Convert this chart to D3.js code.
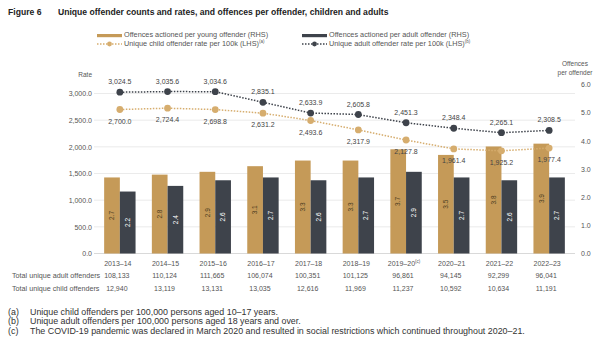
<!DOCTYPE html>
<html>
<head>
<meta charset="utf-8">
<script src="https://cdn.jsdelivr.net/npm/d3@7"></script>
<style>
  body { margin: 0; background: #fff; }
  svg { font-family: "Liberation Sans", Arial, sans-serif; }
</style>
</head>
<body>
<svg id="chart" width="604" height="352"></svg>
<script>
var years = ['2013–14', '2014–15', '2015–16', '2016–17', '2017–18', '2018–19', '2019–20', '2020–21', '2021–22', '2022–23'];
var yearNotes = ['', '', '', '', '', '', '(c)', '', '', ''];
var youngOffences = [2.7, 2.8, 2.9, 3.1, 3.3, 3.3, 3.7, 3.5, 3.8, 3.9];
var adultOffences = [2.2, 2.4, 2.6, 2.7, 2.6, 2.7, 2.9, 2.7, 2.6, 2.7];
var childRate = [2700.0, 2724.4, 2698.8, 2631.2, 2493.6, 2317.9, 2127.8, 1961.4, 1925.2, 1977.4];
var adultRate = [3024.5, 3035.6, 3034.6, 2835.1, 2633.9, 2605.8, 2451.3, 2348.4, 2265.1, 2308.5];
var adultTotals = ['108,133', '110,124', '111,665', '106,074', '100,351', '101,125', '96,861', '94,145', '92,299', '96,041'];
var childTotals = ['12,940', '13,119', '13,131', '13,035', '12,616', '11,969', '11,237', '10,592', '10,634', '11,191'];
var leftTicks = [0, 500, 1000, 1500, 2000, 2500, 3000];
var rightTicks = [0, 1, 2, 3, 4, 5, 6];
var footnotes = [
    ['(a)', 'Unique child offenders per 100,000 persons aged 10–17 years.'],
    ['(b)', 'Unique adult offenders per 100,000 persons aged 18 years and over.'],
    ['(c)', 'The COVID-19 pandemic was declared in March 2020 and resulted in social restrictions which continued throughout 2020–21.']
];

var gold = '#c59a58';
var goldLine = '#d6ad6e';
var dark = '#3e434b';

var svg = d3.select('#chart');

var x = d3.scaleBand().domain(years).range([96, 573]).padding(0);
var yLeft = d3.scaleLinear().domain([0, 3000]).range([253.5, 93.5]);
var yRight = d3.scaleLinear().domain([0, 6]).range([253.5, 84.5]);
var barW = 15.7;

function cx(i) {
    return x(years[i]) + x.bandwidth() / 2;
}

/* Title */
svg.append('text').attr('x', 8).attr('y', 15)
    .style('font-size', '8.6px').style('font-weight', 'bold').style('fill', '#222')
    .text('Figure 6');
svg.append('text').attr('x', 58).attr('y', 15)
    .style('font-size', '8.6px').style('font-weight', 'bold').style('fill', '#222')
    .text('Unique offender counts and rates, and offences per offender, children and adults');

/* Legend */
var legend = svg.append('g').style('font-size', '7.3px').style('fill', '#555');
function legendBar(lx, ly, color, label) {
    legend.append('rect').attr('x', lx).attr('y', ly - 3).attr('width', 25).attr('height', 3.2).attr('fill', color);
    legend.append('text').attr('x', lx + 27).attr('y', ly).text(label);
}
function legendLine(lx, ly, color, label, note) {
    legend.append('line').attr('x1', lx).attr('x2', lx + 25).attr('y1', ly - 2).attr('y2', ly - 2)
        .attr('stroke', color).attr('stroke-width', 1.3).attr('stroke-dasharray', '1.5,1.5');
    legend.append('circle').attr('cx', lx + 12.5).attr('cy', ly - 2).attr('r', 2.4).attr('fill', color);
    var t = legend.append('text').attr('x', lx + 27).attr('y', ly).text(label);
    t.append('tspan').attr('dy', -3).style('font-size', '4.5px').text(note);
}
legendBar(97, 37, gold, 'Offences actioned per young offender (RHS)');
legendLine(97, 46, goldLine, 'Unique child offender rate per 100k (LHS)', '(a)');
legendBar(302, 37, dark, 'Offences actioned per adult offender (RHS)');
legendLine(302, 46, dark, 'Unique adult offender rate per 100k (LHS)', '(b)');

/* Grid and axes */
svg.append('g').selectAll('line').data(leftTicks).join('line')
    .attr('x1', 94).attr('x2', 575)
    .attr('y1', function(d) { return yLeft(d); })
    .attr('y2', function(d) { return yLeft(d); })
    .attr('stroke', function(d) { return d === 0 ? '#cfcfcf' : '#e6e6e6'; })
    .attr('stroke-width', 0.8);

var leftAxis = svg.append('g').attr('transform', 'translate(92,0)')
    .call(d3.axisLeft(yLeft).tickValues(leftTicks).tickSize(0).tickPadding(0).tickFormat(d3.format(',.1f')));
var rightAxis = svg.append('g').attr('transform', 'translate(581,0)')
    .call(d3.axisRight(yRight).tickValues(rightTicks).tickSize(0).tickPadding(0).tickFormat(d3.format('.1f')));
[leftAxis, rightAxis].forEach(function(a) {
    a.select('.domain').remove();
    a.selectAll('text').style('font-size', '7px').style('fill', '#555').style('font-family', '"Liberation Sans", Arial, sans-serif');
});

svg.append('text').attr('x', 92).attr('y', 77).attr('text-anchor', 'end')
    .style('font-size', '6.5px').style('fill', '#555').text('Rate');
svg.append('text').attr('x', 575).attr('y', 66).attr('text-anchor', 'middle')
    .style('font-size', '6.5px').style('fill', '#555').text('Offences');
svg.append('text').attr('x', 575).attr('y', 75).attr('text-anchor', 'middle')
    .style('font-size', '6.5px').style('fill', '#555').text('per offender');

/* Bars */
var bars = svg.append('g');
bars.selectAll('rect.young').data(youngOffences).join('rect').attr('class', 'young')
    .attr('x', function(d, i) { return cx(i) - barW; })
    .attr('y', function(d) { return yRight(d); })
    .attr('width', barW)
    .attr('height', function(d) { return yRight(0) - yRight(d); })
    .attr('fill', gold);
bars.selectAll('rect.adult').data(adultOffences).join('rect').attr('class', 'adult')
    .attr('x', function(d, i) { return cx(i); })
    .attr('y', function(d) { return yRight(d); })
    .attr('width', barW)
    .attr('height', function(d) { return yRight(0) - yRight(d); })
    .attr('fill', dark);

function barLabels(data, cls, dx, color) {
    bars.selectAll('text.' + cls).data(data).join('text').attr('class', cls)
        .attr('transform', function(d, i) {
            var ty = (yRight(d) + yRight(0)) / 2;
            return 'translate(' + (cx(i) + dx) + ',' + ty + ') rotate(-90)';
        })
        .attr('text-anchor', 'middle').attr('dy', '0.35em')
        .style('font-size', '6.5px').style('fill', color)
        .text(function(d) { return d3.format('.1f')(d); });
}
barLabels(youngOffences, 'yl', -barW / 2, '#4a3a20');
barLabels(adultOffences, 'al', barW / 2, '#ffffff');

/* Lines */
var lineGen = d3.line()
    .x(function(d, i) { return cx(i); })
    .y(function(d) { return yLeft(d); });

function drawRate(data, color, labelDy) {
    var g = svg.append('g');
    g.append('path').attr('d', lineGen(data)).attr('fill', 'none')
        .attr('stroke', color).attr('stroke-width', 1.5).attr('stroke-dasharray', '1.5,1.5');
    g.selectAll('circle').data(data).join('circle')
        .attr('cx', function(d, i) { return cx(i); })
        .attr('cy', function(d) { return yLeft(d); })
        .attr('r', 3.4).attr('fill', color);
    g.selectAll('text').data(data).join('text')
        .attr('x', function(d, i) { return cx(i); })
        .attr('y', function(d) { return yLeft(d) + labelDy; })
        .attr('text-anchor', 'middle')
        .style('font-size', '7px').style('fill', '#444')
        .text(function(d) { return d3.format(',.1f')(d); });
}
drawRate(childRate, goldLine, 14);
drawRate(adultRate, dark, -8);

/* Category labels */
var cats = svg.append('g').selectAll('text').data(years).join('text')
    .attr('x', function(d, i) { return cx(i) - 2; })
    .attr('y', 266)
    .attr('text-anchor', 'middle')
    .style('font-size', '7px').style('fill', '#555')
    .text(function(d) { return d; });
cats.append('tspan').attr('dy', -3).style('font-size', '4.5px')
    .text(function(d, i) { return yearNotes[i]; });

/* Table rows */
function tableRow(label, values, ty) {
    svg.append('text').attr('x', 12).attr('y', ty)
        .style('font-size', '7.2px').style('fill', '#555').text(label);
    svg.append('g').selectAll('text').data(values).join('text')
        .attr('x', function(d, i) { return cx(i) - 3; })
        .attr('y', ty).attr('text-anchor', 'middle')
        .style('font-size', '7px').style('fill', '#555')
        .text(function(d) { return d; });
}
tableRow('Total unique adult offenders', adultTotals, 278);
tableRow('Total unique child offenders', childTotals, 291);

/* Footnotes */
var notes = svg.append('g').style('font-size', '8.9px').style('fill', '#333');
footnotes.forEach(function(f, i) {
    notes.append('text').attr('x', 8).attr('y', 315 + i * 9.3).text(f[0]);
    notes.append('text').attr('x', 30).attr('y', 315 + i * 9.3).text(f[1]);
});
</script>
</body>
</html>
